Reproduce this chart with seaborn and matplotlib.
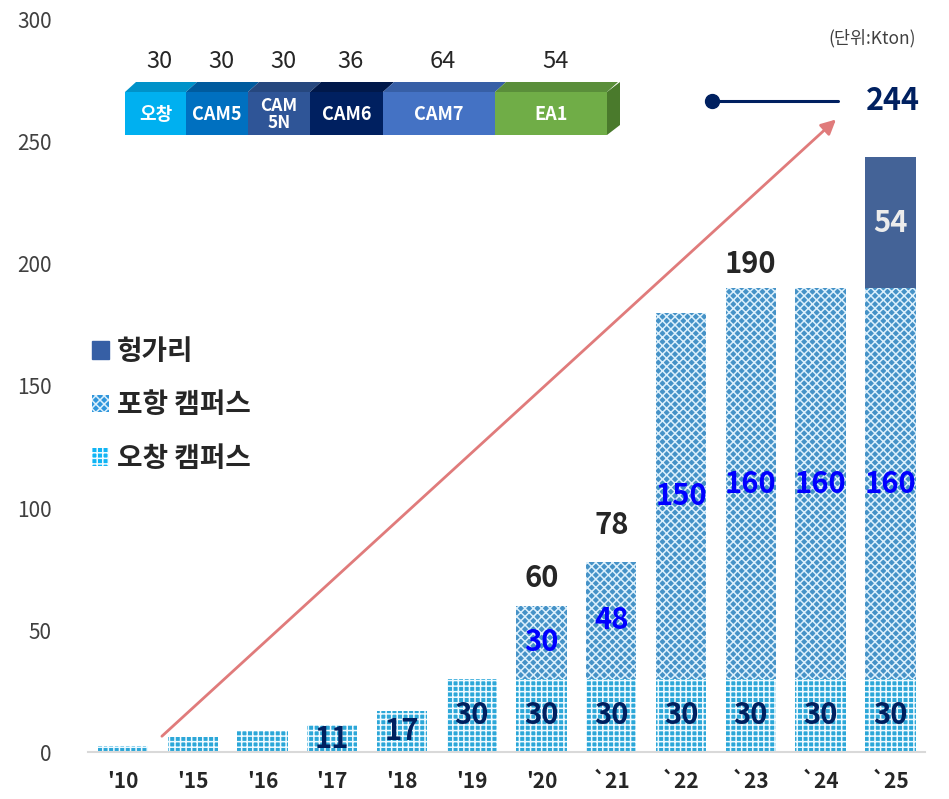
import matplotlib
matplotlib.use('Agg')
import matplotlib.pyplot as plt
from matplotlib.patches import Patch, Polygon
import seaborn as sns
import pandas as pd

# data
years = ["'10", "'15", "'16", "'17", "'18", "'19", "'20", "`21", "`22", "`23", "`24", "`25"]
ochang = [2.5, 6, 8.5, 11, 17, 30, 30, 30, 30, 30, 30, 30]
pohang = [0, 0, 0, 0, 0, 0, 30, 48, 150, 160, 160, 160]
hungary = [0, 0, 0, 0, 0, 0, 0, 0, 0, 0, 0, 54]
ochang_labels = ['', '', '', '11', '17', '30', '30', '30', '30', '30', '30', '30']
totals_shown = {"'20": 60, "`21": 78, "`23": 190}
total_gap = {"'20": 5, "`21": 9, "`23": 4}
lines = ['오창', 'CAM5', 'CAM\n5N', 'CAM6', 'CAM7', 'EA1']
line_caps = [30, 30, 30, 36, 64, 54]
series_names = ['헝가리', '포항 캠퍼스', '오창 캠퍼스']

df = pd.DataFrame({'year': years, 'ochang': ochang, 'pohang': pohang, 'hungary': hungary})
df['op'] = df['ochang'] + df['pohang']
df['total'] = df['op'] + df['hungary']

sns.set_style('white')
plt.rcParams['font.family'] = ['Noto Sans CJK KR', 'DejaVu Sans']
plt.rcParams['hatch.linewidth'] = 1.1

fig = plt.figure(figsize=(9.49, 7.99), dpi=100)
ax = fig.add_axes([0.0927, 0.0588, 0.8823, 0.9162])

c_hun = '#365fa5'
c_poh, h_poh = '#3096dc', '#dcf0fc'
c_och, h_och = '#10b4f4', '#f0faff'

sns.barplot(data=df, x='year', y='total', order=years, color=c_hun, width=0.72, ax=ax)
n = len(ax.patches)
sns.barplot(data=df, x='year', y='op', order=years, color=c_poh, width=0.72, ax=ax)
for p in ax.patches[n:]:
    p.set_hatch('xxxx'); p.set_edgecolor(h_poh); p.set_linewidth(0)
n = len(ax.patches)
sns.barplot(data=df, x='year', y='ochang', order=years, color=c_och, width=0.72, ax=ax)
for p in ax.patches[n:]:
    p.set_hatch('+++'); p.set_edgecolor(h_och); p.set_linewidth(0)
for p in ax.patches[:12]:
    p.set_linewidth(0)

ax.set_xlim(-0.5, 11.5)
ax.set_ylim(0, 300)
ax.set_yticks(range(0, 301, 50))
ax.set_xlabel('')
ax.set_ylabel('')
sns.despine(ax=ax, left=True)
ax.spines['bottom'].set_color('#d9d9d9')
ax.spines['bottom'].set_linewidth(1.5)
ax.tick_params(axis='y', length=0, pad=26, labelsize=15, labelcolor='#404040')
ax.tick_params(axis='x', length=0, pad=14, labelsize=15, labelcolor='#262626')
for t in ax.get_xticklabels():
    t.set_fontweight('bold')

# value labels
for i, y in enumerate(years):
    if ochang_labels[i]:
        ax.text(i, ochang[i] / 2, ochang_labels[i], ha='center', va='center',
                fontsize=21, fontweight='bold', color='#002060')
    if pohang[i]:
        ax.text(i, ochang[i] + pohang[i] / 2, str(pohang[i]), ha='center', va='center',
                fontsize=21, fontweight='bold', color='#0000ff')
    if hungary[i]:
        ax.text(i, df['op'][i] + hungary[i] / 2, str(hungary[i]), ha='center', va='center',
                fontsize=21, fontweight='bold', color='#ececec')
    if y in totals_shown:
        ax.text(i, df['total'][i] + total_gap[y], str(totals_shown[y]), ha='center', va='bottom',
                fontsize=21, fontweight='bold', color='#262626')

# growth arrow
ax.annotate('', xy=(10.25, 260), xytext=(0.53, 5.7),
            arrowprops=dict(arrowstyle='-|>', color='#e07b7b', lw=2, mutation_scale=22))

# legend
handles = [Patch(facecolor=c_hun, edgecolor=c_hun),
           Patch(facecolor=c_poh, edgecolor=h_poh, hatch='xxxx', linewidth=0),
           Patch(facecolor=c_och, edgecolor=h_och, hatch='+++', linewidth=0)]
leg = ax.legend(handles, series_names, loc='upper left', bbox_to_anchor=(-0.025, 0.6),
                frameon=False, prop={'size': 20, 'weight': 'bold'},
                handlelength=0.6, handleheight=0.6, labelspacing=0.92, handletextpad=0.3)
for t in leg.get_texts():
    t.set_color('#262626')

# overlay in pixel coordinates for the capacity strip
ov = fig.add_axes([0, 0, 1, 1])
ov.set_xlim(0, 949)
ov.set_ylim(799, 0)
ov.axis('off')
ov.patch.set_alpha(0)

edges = [125, 186, 248, 310, 383, 495, 607]
front = ['#00b0f0', '#0070c0', '#2f5597', '#002060', '#4472c4', '#70ad47']
top = ['#0092c9', '#005b9e', '#26477e', '#00184a', '#375fa6', '#5a8e3a']
y0, y1, d = 92, 135, 11
for k in range(len(lines)):
    xa, xb = edges[k], edges[k + 1]
    ov.add_patch(Polygon([[xa, y0], [xb, y0], [xb, y1], [xa, y1]], closed=True,
                         facecolor=front[k], edgecolor='none'))
    ov.add_patch(Polygon([[xa, y0], [xa + d, y0 - 10], [xb + d, y0 - 10], [xb, y0]], closed=True,
                         facecolor=top[k], edgecolor='none'))
    fs = 13 if '\n' not in lines[k] else 12.5
    ov.text((xa + xb) / 2, (y0 + y1) / 2 + 1, lines[k], ha='center', va='center', color='white',
            fontsize=fs, fontweight='bold', linespacing=0.95)
    ov.text((xa + xb) / 2 + 4, 62, str(line_caps[k]), ha='center', va='center',
            fontsize=17, color='#262626')
ov.add_patch(Polygon([[607, y0], [607 + d + 2, y0 - 10], [607 + d + 2, y1 - 10], [607, y1]],
                     closed=True, facecolor='#4a7a2c', edgecolor='none'))

ov.plot([712, 838], [101, 101], color='#002060', lw=2.2)
ov.plot([712], [101], 'o', color='#002060', ms=10)
ov.text(893, 101, '244', ha='center', va='center', fontsize=22, fontweight='bold', color='#002060')
ov.text(872, 38, '(단위:Kton)', ha='center', va='center', fontsize=12.5, color='#404040')

fig.savefig('out.png', dpi=100)
